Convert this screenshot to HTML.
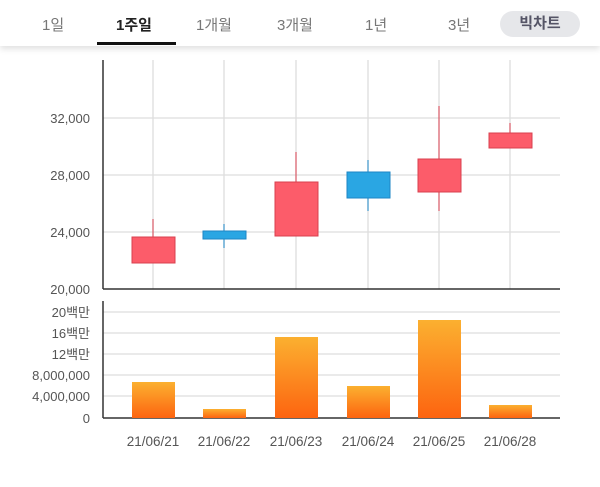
<!DOCTYPE html><html><head><meta charset="utf-8"><style>
body{margin:0;width:600px;height:487px;background:#fff;font-family:"Liberation Sans","Noto Sans CJK KR",sans-serif;overflow:hidden}
.hdr{position:absolute;left:0;top:0;width:600px;height:46px;background:#fff;box-shadow:0 3px 6px rgba(0,0,0,0.12)}
.t{position:absolute;top:14px;font-size:15px;color:#777}
</style></head><body>
<div class="hdr">
<span class="t" style="left:42px">1일</span>
<span class="t" style="left:116px;color:#222;font-weight:bold">1주일</span>
<div style="position:absolute;left:97px;top:42px;width:79px;height:3px;background:#111"></div>
<span class="t" style="left:196px">1개월</span>
<span class="t" style="left:277px">3개월</span>
<span class="t" style="left:365px">1년</span>
<span class="t" style="left:448px">3년</span>
<div style="position:absolute;left:500px;top:11px;width:80px;height:26px;border-radius:13px;background:#e6e7ea;text-align:center;line-height:26px;font-size:15px;font-weight:bold;color:#556">빅차트</div>
</div>
<svg width="600" height="487" style="position:absolute;left:0;top:0" font-family="Liberation Sans,Noto Sans CJK KR,sans-serif" font-size="13" fill="#555">
<g stroke="#ddd" stroke-width="1.3">
<line x1="153" y1="60" x2="153" y2="289"/><line x1="224" y1="60" x2="224" y2="289"/><line x1="296" y1="60" x2="296" y2="289"/><line x1="368" y1="60" x2="368" y2="289"/><line x1="439" y1="60" x2="439" y2="289"/><line x1="510" y1="60" x2="510" y2="289"/>
<line x1="103" y1="118" x2="560" y2="118"/><line x1="103" y1="175" x2="560" y2="175"/><line x1="103" y1="232" x2="560" y2="232"/>
<line x1="103" y1="312" x2="560" y2="312"/><line x1="103" y1="333" x2="560" y2="333"/><line x1="103" y1="354" x2="560" y2="354"/><line x1="103" y1="375" x2="560" y2="375"/><line x1="103" y1="396" x2="560" y2="396"/>
</g>
<g stroke="#333" stroke-width="1.5">
<line x1="103" y1="60" x2="103" y2="289"/><line x1="103" y1="289" x2="560" y2="289"/>
<line x1="103" y1="301" x2="103" y2="418"/><line x1="103" y1="418" x2="560" y2="418"/>
</g>
<g text-anchor="end">
<text x="90" y="123">32,000</text><text x="90" y="180">28,000</text><text x="90" y="237">24,000</text><text x="90" y="294">20,000</text>
<text x="90" y="317">20백만</text><text x="90" y="338">16백만</text><text x="90" y="359">12백만</text><text x="90" y="380">8,000,000</text><text x="90" y="401">4,000,000</text><text x="90" y="423">0</text>
</g>
<g text-anchor="middle" font-size="13.5">
<text x="153" y="446">21/06/21</text><text x="224" y="446">21/06/22</text><text x="296" y="446">21/06/23</text><text x="368" y="446">21/06/24</text><text x="439" y="446">21/06/25</text><text x="510" y="446">21/06/28</text>
</g>
<g stroke="#d9404f" fill="#fc5c6a">
<line x1="153" y1="219" x2="153" y2="263"/><rect x="132" y="237" width="43" height="26"/>
<line x1="296" y1="152" x2="296" y2="236"/><rect x="275" y="182" width="43" height="54"/>
<line x1="439" y1="106" x2="439" y2="211"/><rect x="418" y="159" width="43" height="33"/>
<line x1="510" y1="123" x2="510" y2="148"/><rect x="489" y="133" width="43" height="15"/>
</g>
<g stroke="#1d86c6" fill="#2aa6e3">
<line x1="224" y1="224" x2="224" y2="248"/><rect x="203" y="231" width="43" height="8"/>
<line x1="368" y1="160" x2="368" y2="211"/><rect x="347" y="172" width="43" height="26"/>
</g>
<defs><linearGradient id="g" x1="0" y1="0" x2="0" y2="1"><stop offset="0" stop-color="#fbb030"/><stop offset="1" stop-color="#fd6410"/></linearGradient></defs>
<g fill="url(#g)">
<rect x="132" y="382" width="43" height="36"/><rect x="203" y="409" width="43" height="9"/><rect x="275" y="337" width="43" height="81"/><rect x="347" y="386" width="43" height="32"/><rect x="418" y="320" width="43" height="98"/><rect x="489" y="405" width="43" height="13"/>
</g>
</svg>
</body></html>
